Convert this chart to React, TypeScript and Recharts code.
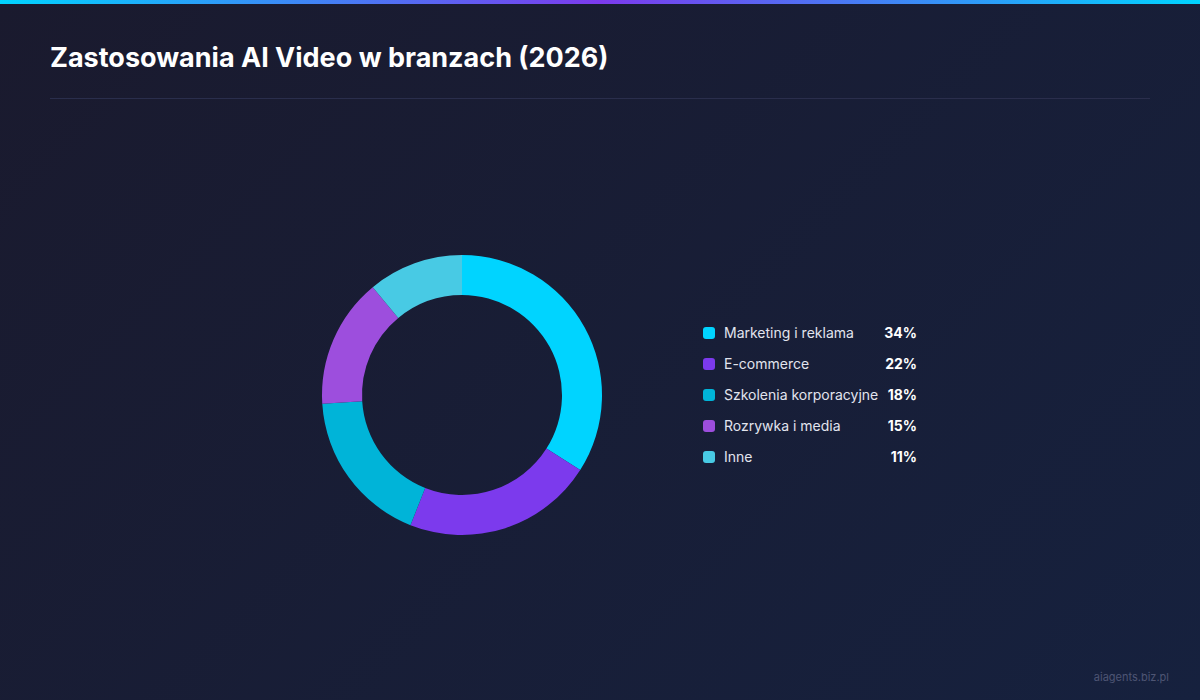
import React from 'react';
import { PieChart, Pie, Cell } from 'recharts';

const CATEGORIES = ['Marketing i reklama', 'E-commerce', 'Szkolenia korporacyjne', 'Rozrywka i media', 'Inne'];
const SHARES = [34, 22, 18, 15, 11];
const COLORS = ['#00d4ff', '#7c3aed', '#00b4d8', '#9d4edd', '#48cae4'];

const data = CATEGORIES.map((name, i) => ({ name, value: SHARES[i] }));

const FONT = 'Inter, "Noto Sans", sans-serif';

const App: React.FC = () => {
  return (
    <div
      style={{
        position: 'absolute',
        left: 0,
        top: 0,
        width: 1200,
        height: 700,
        overflow: 'hidden',
        background: 'linear-gradient(135deg, #1a1a2e 0%, #16213e 100%)',
        fontFamily: FONT,
      }}
    >
      {/* top accent bar */}
      <div
        style={{
          position: 'absolute',
          left: 0,
          top: 0,
          width: 1200,
          height: 4,
          background: 'linear-gradient(90deg, #00d4ff 0%, #7c3aed 50%, #00d4ff 100%)',
        }}
      />

      <div
        style={{
          position: 'absolute',
          left: 50,
          top: 41,
          fontSize: 27,
          fontWeight: 700,
          color: '#ffffff',
        }}
      >
        Zastosowania AI Video w branzach (2026)
      </div>

      <div style={{ position: 'absolute', left: 50, top: 98, width: 1100, height: 1, background: '#2a2e4c' }} />

      {/* PieChart has a 5px default margin, so the box sits 5px up-left */}
      <div style={{ position: 'absolute', left: 307, top: 240 }}>
        <PieChart width={310} height={310}>
          <Pie
            data={data}
            dataKey="value"
            nameKey="name"
            cx={150}
            cy={150}
            innerRadius={100}
            outerRadius={140}
            startAngle={90}
            endAngle={-270}
            stroke="none"
            isAnimationActive={false}
          >
            {data.map((entry, index) => (
              <Cell key={`cell-${index}`} fill={COLORS[index % COLORS.length]} />
            ))}
          </Pie>
        </PieChart>
      </div>

      {/* legend */}
      <div style={{ position: 'absolute', left: 703, top: 317, width: 214 }}>
        {data.map((entry, index) => (
          <div key={entry.name} style={{ display: 'flex', alignItems: 'center', height: 31 }}>
            <span
              style={{
                width: 12,
                height: 12,
                borderRadius: 3,
                background: COLORS[index],
                marginRight: 9,
                flexShrink: 0,
              }}
            />
            <span style={{ fontSize: 14, color: '#e2e4ee', flex: 1, whiteSpace: 'nowrap' }}>{entry.name}</span>
            <span style={{ fontSize: 14, fontWeight: 700, color: '#ffffff', textAlign: 'right' }}>{entry.value}%</span>
          </div>
        ))}
      </div>

      <div
        style={{
          position: 'absolute',
          right: 31,
          top: 670,
          fontSize: 11,
          color: '#4e5574',
        }}
      >
        aiagents.biz.pl
      </div>
    </div>
  );
};

export default App;
